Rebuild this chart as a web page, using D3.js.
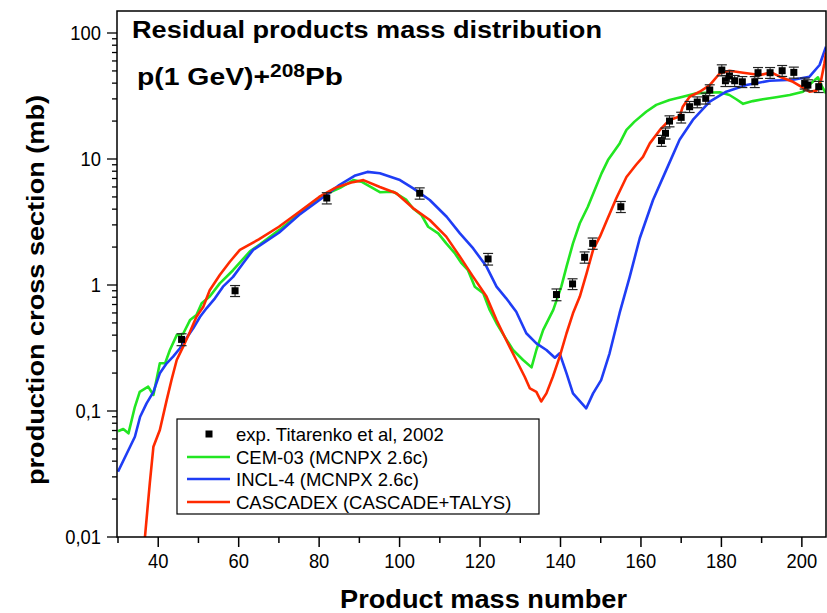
<!DOCTYPE html>
<meta charset="utf-8">
<style>
  body { margin: 0; background: #fff; }
  svg { font-family: "Liberation Sans", Arial, Helvetica, sans-serif; }
</style>
<body>
<svg id="chart"></svg>
<script src="https://cdn.jsdelivr.net/npm/d3@7"></script>
<script>

// experimental points (Titarenko et al, 2002)
var expA = [45.8, 59.1, 81.9, 105.0, 122.0, 139.0, 143.0, 146.0, 148.0, 155.0, 165.1, 166.1, 167.1, 170.0, 172.1, 174.0, 176.1, 177.1, 180.1, 181.0, 182.0, 183.3, 185.2, 188.3, 189.1, 192.1, 195.1, 198.0, 200.7, 201.5, 204.2];
var expSigma = [0.37, 0.90, 4.9, 5.35, 1.61, 0.84, 1.02, 1.66, 2.14, 4.18, 14.0, 16.0, 20.0, 21.4, 26.0, 28.3, 30.3, 35.3, 50.8, 41.8, 45.6, 41.8, 41.0, 41.0, 48.4, 48.4, 50.2, 48.7, 39.9, 38.6, 37.5];
var expErr = [0.04, 0.09, 0.5, 0.55, 0.17, 0.09, 0.1, 0.17, 0.22, 0.42, 1.4, 1.6, 2.0, 2.1, 2.6, 2.8, 3.0, 3.5, 5.1, 4.2, 4.6, 4.2, 4.1, 4.1, 4.8, 4.8, 5.0, 4.9, 4.0, 3.9, 3.8];

// CEM-03 (MCNPX 2.6c)
var cemA = [30, 31.3, 32.6, 34.2, 35.4, 37.5, 38.8, 40.4, 41.7, 42.9, 44.6, 46.2, 47.9, 49.5, 50.8, 52.8, 55.3, 58.6, 62.8, 65.3, 70.2, 75.2, 80.2, 85.2, 88.5, 90.5, 95.1, 98.4, 101.7, 103.3, 105.4, 107.1, 109.6, 111.6, 113.7, 115.4, 117.0, 118.7, 120.8, 122.4, 124.1, 126.1, 128.2, 130.7, 132.8, 134.0, 135.7, 138.2, 140.2, 141.5, 143.1, 144.8, 146.8, 148.5, 150.2, 151.8, 154.7, 156.4, 158.4, 161.3, 163.8, 167.1, 170.4, 173.8, 176.2, 179.6, 182.0, 183.7, 185.4, 187.8, 190.3, 193.6, 197.0, 200.3, 202.3, 204.0, 204.8, 206];
var cemSigma = [0.069, 0.072, 0.0665, 0.108, 0.142, 0.156, 0.134, 0.239, 0.239, 0.305, 0.40, 0.41, 0.527, 0.578, 0.716, 0.81, 1.03, 1.31, 1.85, 2.1, 2.75, 3.7, 5.0, 5.9, 6.8, 6.6, 5.45, 5.5, 4.73, 4.06, 3.6, 2.9, 2.57, 2.14, 1.79, 1.49, 1.31, 0.97, 0.86, 0.634, 0.497, 0.389, 0.305, 0.254, 0.222, 0.305, 0.44, 0.634, 0.97, 1.40, 2.14, 3.09, 4.18, 5.67, 7.69, 9.8, 13.3, 17.0, 19.8, 23.7, 26.9, 29.4, 31.2, 33.2, 33.6, 33.9, 32.2, 29.8, 27.4, 28.8, 29.8, 30.9, 32.2, 34.2, 40, 44.5, 38.5, 33.2];

// INCL-4 (MCNPX 2.6c)
var inclA = [30, 33.0, 34.2, 35.5, 37.1, 38.8, 40.4, 42.1, 43.7, 45.4, 47.0, 48.7, 50.4, 52.0, 54.1, 56.1, 58.6, 61.1, 63.6, 70, 75, 80, 85, 89, 92, 95.1, 100.1, 103.4, 107.5, 111.7, 115.0, 118.3, 121.6, 124.1, 126.5, 129.0, 131.5, 134.0, 136.5, 138.6, 139.8, 141.5, 143.1, 146.4, 148.1, 150.1, 152.2, 154.7, 157.2, 159.7, 163.0, 166.3, 169.6, 172.9, 177.1, 181.2, 186.2, 192.0, 197.8, 201.9, 204.4, 206];
var inclSigma = [0.033, 0.052, 0.0625, 0.090, 0.115, 0.142, 0.199, 0.239, 0.27, 0.315, 0.378, 0.453, 0.56, 0.653, 0.784, 0.97, 1.16, 1.49, 1.90, 2.6, 3.6, 4.7, 6.2, 7.4, 7.9, 7.7, 6.8, 5.85, 4.73, 3.48, 2.57, 1.95, 1.40, 0.97, 0.784, 0.614, 0.414, 0.344, 0.305, 0.265, 0.287, 0.199, 0.138, 0.105, 0.138, 0.176, 0.287, 0.60, 1.16, 2.35, 4.73, 8.2, 14.2, 20.4, 28.5, 34.2, 38.6, 41.8, 42.6, 45, 55.7, 77.8];

// CASCADEX (CASCADE+TALYS)
var cascA = [36.7, 37.9, 38.8, 40.4, 42.1, 43.3, 44.6, 46.2, 47.9, 49.5, 51.2, 52.8, 55.3, 57.8, 60.3, 65, 70, 75, 80, 84, 88, 91, 95.1, 99.2, 103.4, 107.5, 111.6, 115.0, 118.3, 121.6, 124.1, 126.5, 129.0, 131.1, 132.4, 134.0, 135.2, 136.5, 138.1, 139.8, 141.5, 143.1, 144.8, 146.5, 148.1, 149.8, 151.4, 153.9, 156.4, 158.8, 160.5, 162.2, 164.7, 167.1, 169.6, 170.4, 172.1, 174.6, 177.1, 179.6, 182.0, 185.4, 189.6, 192.4, 194.5, 197.8, 199.8, 201.9, 203.6, 204.8, 205.6, 206];
var cascSigma = [0.01, 0.0267, 0.052, 0.0707, 0.122, 0.176, 0.254, 0.324, 0.426, 0.56, 0.673, 0.91, 1.2, 1.53, 1.90, 2.3, 2.9, 3.8, 5.0, 5.9, 6.5, 6.8, 6.0, 5.35, 4.06, 3.28, 2.42, 1.68, 1.16, 0.81, 0.527, 0.366, 0.254, 0.187, 0.151, 0.142, 0.119, 0.138, 0.187, 0.27, 0.414, 0.596, 0.81, 1.24, 1.90, 2.42, 3.19, 4.9, 7.2, 9.0, 10.4, 13.3, 17.0, 20.4, 21.7, 26, 31.2, 34.2, 38.6, 47.9, 50.2, 48.4, 46.4, 48.7, 45, 41, 37.5, 34.2, 34.9, 42.6, 57.4, 70];

var xTicks = [40, 60, 80, 100, 120, 140, 160, 180, 200];
var yTicks = [0.01, 0.1, 1, 10, 100];
var yTickLabels = ["0,01", "0,1", "1", "10", "100"];
var legendNames = ["exp. Titarenko et al, 2002", "CEM-03 (MCNPX 2.6c)", "INCL-4 (MCNPX 2.6c)", "CASCADEX (CASCADE+TALYS)"];

var width = 827, height = 613;
var pLeft = 117, pRight = 826, pTop = 11, pBottom = 537;

var svg = d3.select('#chart').attr('width', width).attr('height', height);

var x = d3.scaleLinear().domain([30, 206]).range([pLeft + 1, pRight]);
var y = d3.scaleLog().domain([0.01, 100]).range([pBottom, 33]);

svg.append('clipPath').attr('id', 'clip')
  .append('rect').attr('x', pLeft).attr('y', pTop).attr('width', pRight - pLeft).attr('height', pBottom - pTop);

var line = d3.line()
  .x(function (d) { return x(d[0]); })
  .y(function (d) { return y(d[1]); });

var series = [
  { a: cemA, s: cemSigma, color: '#22e622' },
  { a: inclA, s: inclSigma, color: '#1f3df5' },
  { a: cascA, s: cascSigma, color: '#ff2a00' }
];

var plot = svg.append('g').attr('clip-path', 'url(#clip)');
series.forEach(function (sr) {
  plot.append('path')
    .datum(d3.zip(sr.a, sr.s))
    .attr('d', line)
    .attr('fill', 'none')
    .attr('stroke', sr.color)
    .attr('stroke-width', 2.6)
    .attr('stroke-linejoin', 'round');
});

// experimental points with error bars
var pts = plot.selectAll('.pt').data(d3.range(expA.length)).enter().append('g').attr('class', 'pt');
pts.append('line')
  .attr('x1', function (i) { return x(expA[i]); })
  .attr('x2', function (i) { return x(expA[i]); })
  .attr('y1', function (i) { return y(expSigma[i] - expErr[i]); })
  .attr('y2', function (i) { return y(expSigma[i] + expErr[i]); })
  .attr('stroke', '#222').attr('stroke-width', 1);
[-1, 1].forEach(function (sgn) {
  pts.append('line')
    .attr('x1', function (i) { return x(expA[i]) - 5; })
    .attr('x2', function (i) { return x(expA[i]) + 5; })
    .attr('y1', function (i) { return y(expSigma[i] + sgn * expErr[i]); })
    .attr('y2', function (i) { return y(expSigma[i] + sgn * expErr[i]); })
    .attr('stroke', '#222').attr('stroke-width', 1.2);
});
pts.append('rect')
  .attr('x', function (i) { return x(expA[i]) - 3.5; })
  .attr('y', function (i) { return y(expSigma[i]) - 3.5; })
  .attr('width', 7).attr('height', 7)
  .attr('fill', '#000');

// frame
svg.append('path')
  .attr('d', 'M' + pLeft + ',' + pBottom + 'V' + pTop + 'H' + pRight + 'V' + pBottom + 'Z')
  .attr('fill', 'none').attr('stroke', '#000').attr('stroke-width', 1.5);

// x axis
var xAxis = svg.append('g').attr('transform', 'translate(0,' + pBottom + ')');
xAxis.selectAll('.tk').data(d3.range(30, 210, 10)).enter().append('line')
  .attr('x1', function (d) { return x(d); }).attr('x2', function (d) { return x(d); })
  .attr('y1', 0).attr('y2', function (d) { return d % 20 === 0 ? 10 : 6; })
  .attr('stroke', '#000').attr('stroke-width', 1.5);
xAxis.selectAll('.lab').data(xTicks).enter().append('text')
  .attr('x', function (d) { return x(d); })
  .attr('y', 31)
  .attr('text-anchor', 'middle')
  .attr('font-size', 20)
  .attr('transform', function (d) { return 'translate(' + x(d) + ',0) scale(0.92,1) translate(' + (-x(d)) + ',0)'; })
  .text(function (d) { return d; });

// y axis
var yAxis = svg.append('g').attr('transform', 'translate(' + pLeft + ',0)');
var yMinor = [];
yTicks.forEach(function (dec) {
  for (var k = 1; k < 10; k++) {
    var v = dec * k;
    if (y(v) >= pTop) yMinor.push({ v: v, major: k === 1 });
  }
});
yAxis.selectAll('.tk').data(yMinor).enter().append('line')
  .attr('y1', function (d) { return y(d.v); }).attr('y2', function (d) { return y(d.v); })
  .attr('x1', 0).attr('x2', function (d) { return d.major ? -10 : -5; })
  .attr('stroke', '#000').attr('stroke-width', 1.3);
yAxis.selectAll('.lab').data(yTicks).enter().append('text')
  .attr('x', -16)
  .attr('y', function (d) { return y(d); })
  .attr('dy', '0.36em')
  .attr('text-anchor', 'end')
  .attr('font-size', 20)
  .attr('transform', 'translate(-16,0) scale(0.92,1) translate(16,0)')
  .text(function (d, i) { return yTickLabels[i]; });

// axis titles
svg.append('text')
  .attr('x', 340).attr('y', 608)
  .attr('font-size', 25).attr('font-weight', 'bold')
  .attr('textLength', 287).attr('lengthAdjust', 'spacingAndGlyphs')
  .text('Product mass number');
svg.append('text')
  .attr('transform', 'translate(44,485) rotate(-90)')
  .attr('font-size', 24).attr('font-weight', 'bold')
  .attr('textLength', 390).attr('lengthAdjust', 'spacingAndGlyphs')
  .text('production cross section (mb)');

// titles
svg.append('text')
  .attr('x', 132).attr('y', 38)
  .attr('font-size', 23).attr('font-weight', 'bold')
  .attr('textLength', 470).attr('lengthAdjust', 'spacingAndGlyphs')
  .text('Residual products mass distribution');
svg.append('text')
  .attr('x', 137).attr('y', 85)
  .attr('font-size', 23).attr('font-weight', 'bold')
  .attr('textLength', 133).attr('lengthAdjust', 'spacingAndGlyphs')
  .text('p(1 GeV)+');
svg.append('text')
  .attr('x', 270).attr('y', 77)
  .attr('font-size', 18).attr('font-weight', 'bold')
  .attr('textLength', 35).attr('lengthAdjust', 'spacingAndGlyphs')
  .text('208');
svg.append('text')
  .attr('x', 305).attr('y', 85)
  .attr('font-size', 23).attr('font-weight', 'bold')
  .attr('textLength', 38).attr('lengthAdjust', 'spacingAndGlyphs')
  .text('Pb');

// legend
var lg = svg.append('g').attr('transform', 'translate(177,419)');
lg.append('rect').attr('width', 362).attr('height', 95)
  .attr('fill', '#fff').attr('stroke', '#000').attr('stroke-width', 1.2);
var rowsY = [15, 38, 60, 83];
lg.append('rect').attr('x', 28.5).attr('y', rowsY[0] - 3.5).attr('width', 7).attr('height', 7).attr('fill', '#000');
series.forEach(function (sr, i) {
  lg.append('line')
    .attr('x1', 10).attr('x2', 53)
    .attr('y1', rowsY[i + 1]).attr('y2', rowsY[i + 1])
    .attr('stroke', sr.color).attr('stroke-width', 2.6);
});
lg.selectAll('.lt').data(legendNames).enter().append('text')
  .attr('x', 59)
  .attr('y', function (d, i) { return rowsY[i]; })
  .attr('dy', '0.36em')
  .attr('font-size', 18.5)
  .text(function (d) { return d; });

</script>
</body>
